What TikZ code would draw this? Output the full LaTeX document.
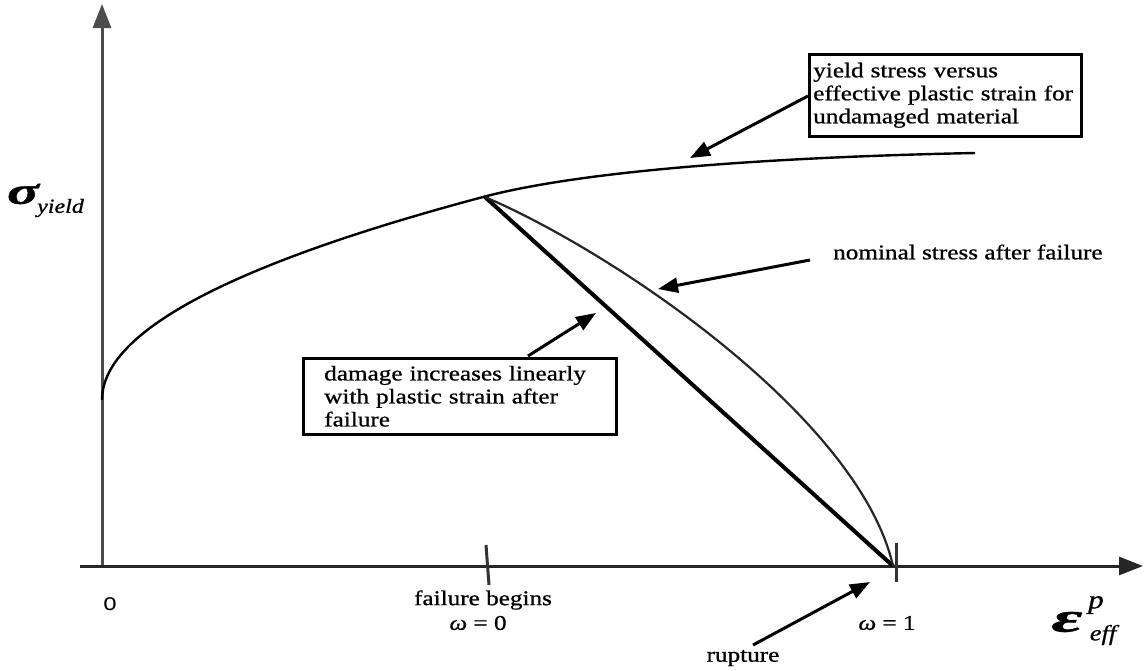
\documentclass[tikz,border=0pt]{standalone}
\usepackage{fontspec}
\setmainfont{Liberation Serif}[FakeStretch=1.2, FakeBold=0.8]
\newfontfamily\sansf{Liberation Sans}
\usetikzlibrary{arrows.meta}
\begin{document}
\begin{tikzpicture}[x=1pt,y=-1pt,
  axisline/.style={line width=3pt, draw=black!70, -{Triangle[length=24pt,width=18pt]}},
  callout/.style={line width=3pt, -{Triangle[length=20pt,width=15pt]}},
  notebox/.style={draw, line width=2.5pt, align=left, anchor=north west,
    font=\fontsize{21}{23}\selectfont, inner ysep=0pt},
  lbl/.style={font=\fontsize{21}{23}\selectfont, inner sep=0pt},
  tick/.style={line width=3pt, draw=black!80}
]
\useasboundingbox (0,0) rectangle (1144,670);
\fill[white] (0,0) rectangle (1144,670);

% axes
\coordinate (ybot) at (102,567);
\coordinate (ytip) at (102,4);
\coordinate (xstart) at (80,566);
\coordinate (xtip) at (1143,566);
\draw[axisline] (ybot) -- (ytip);
\draw[axisline, draw=black!85] (xstart) -- (xtip);

% key points
\coordinate (F) at (485,197);
\coordinate (R) at (893,566);
\coordinate (E) at (975,153);

% yield curve for undamaged material
\draw[line width=2.4pt, line join=round]
  plot[domain=0:19.52, samples=70, variable=\t] ({102+\t*\t},{400-10.4*\t})
  .. controls (600,166) and (825,156) .. (E);

% damage line and nominal stress curve
\draw[line width=4pt] (F) -- (R);
\draw[line width=2.2pt, draw=black!85] (F) .. controls (620,255) and (860,420) .. (R);

% ticks
\coordinate (t0a) at (486,545); \coordinate (t0b) at (489,585);
\coordinate (t1a) at (896,543); \coordinate (t1b) at (896,582);
\draw[tick] (t0a) -- (t0b);
\draw[tick] (t1a) -- (t1b);

% axis labels
\node[inner sep=0pt] (sig) at (23,194) {\scalebox{1.3}[1]{\fontsize{38}{38}\selectfont\bfseries\itshape σ}};
\node[inner sep=0pt, anchor=west] (sigsub) at (37,208) {\fontsize{20}{20}\selectfont\itshape yield};
\node[inner sep=0pt] (eps) at (1067,622) {\scalebox{1.5}[1]{\fontsize{42}{42}\selectfont\bfseries\itshape ε}};
\node[inner sep=0pt] (epsp) at (1096,605) {\fontsize{26}{26}\selectfont\itshape p};
\node[inner sep=0pt] (epss) at (1103,635) {\fontsize{22}{22}\selectfont\itshape eff};

\node[inner sep=0pt] (orig) at (110,604) {\fontsize{24}{24}\sansf o};
\node[lbl] (fb) at (483,600) {failure begins};
\node[lbl] (w0) at (478,623) {{\itshape ω} = 0};
\node[lbl] (w1) at (887,623) {{\itshape ω} = 1};
\node[lbl] (rup) at (743,658) {rupture};
\node[lbl, anchor=west] (nom) at (833,252) {nominal stress after failure};

% boxes
\node[notebox, minimum width=272pt, minimum height=82pt, text width=264pt, inner xsep=4pt]
  (b1) at (808,53) {yield stress versus\\effective plastic strain for\\undamaged material};
\node[notebox, minimum width=313pt, minimum height=76pt, text width=271pt, inner xsep=21pt]
  (b2) at (302,357) {damage increases linearly\\with plastic strain after\\failure};

% callout arrows
\coordinate (a1) at (690,158);
\coordinate (a2s) at (810,260);
\coordinate (a2) at (658,289);
\coordinate (a3s) at (528,356);
\coordinate (a3) at (596,313);
\coordinate (a4s) at (753,645);
\coordinate (a4) at (870,582);
\draw[callout] (b1.west |- 0,96) -- (a1);
\draw[callout] (a2s) -- (a2);
\draw[callout] (a3s) -- (a3);
\draw[callout] (a4s) -- (a4);
\end{tikzpicture}
\end{document}
